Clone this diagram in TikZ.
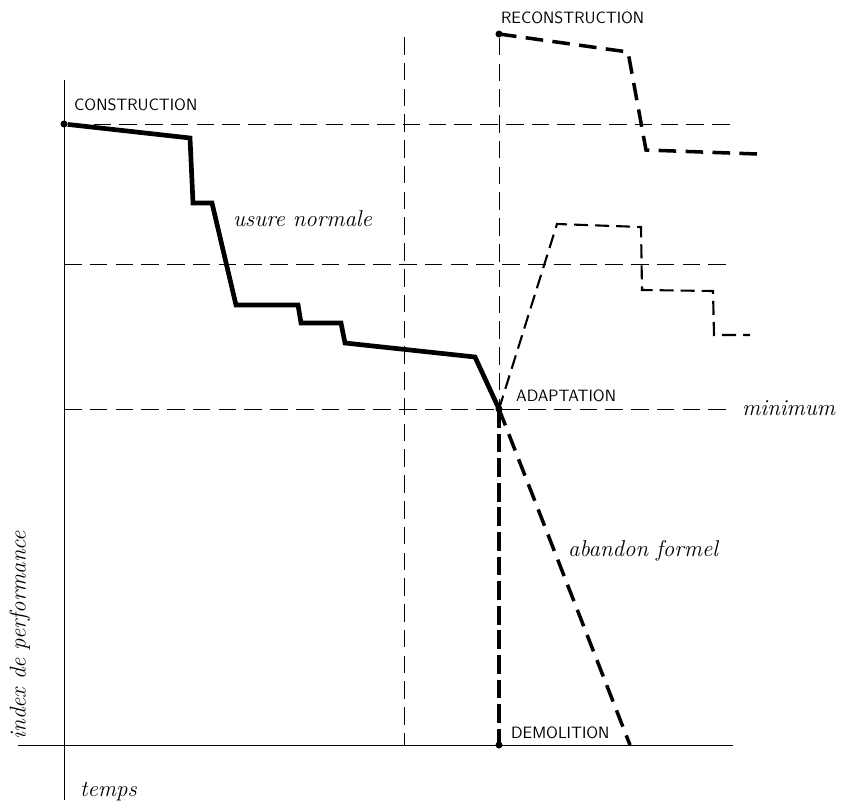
\documentclass[tikz,border=0pt]{standalone}
\usepackage{tikz}
\usetikzlibrary{positioning}

\tikzset{
  guide/.style={line width=0.6pt, dash pattern=on 15pt off 7pt},
  worn/.style={line width=4pt, line join=miter},
  rebuilt/.style={line width=3pt, dash pattern=on 15pt off 8pt},
  adapted/.style={line width=1.8pt, dash pattern=on 12pt off 6pt},
  caps/.style={font=\sffamily\fontsize{14}{16}\selectfont},
  hand/.style={font=\itshape\fontsize{19.5}{22}\selectfont},
  event/.style={circle, fill, inner sep=0pt, minimum size=6pt}
}

\begin{document}
\begin{tikzpicture}[x=0.03cm, y=-0.03cm]
      \useasboundingbox (0, 0) rectangle (841, 811);

      \coordinate (origin) at (64, 745);
      \node[event] (construction) at (64, 124) {};
      \node[event] (reconstruction) at (499, 34) {};
      \node[event] (adaptation) at (499, 409) {};
      \node[event] (demolition) at (499, 745) {};
      \coordinate (mid) at (404, 37);

      \draw[line width=0.8pt] (18, 745) -- (733, 745);
      \draw[line width=0.8pt] (64, 80) -- (64, 800);

      \draw[guide] (construction) -- (733, 124);
      \draw[guide] (64, 264) -- (733, 264);
      \draw[guide] (64, 409) -- (733, 409);
      \draw[guide] (mid) -- (mid |- origin);
      \draw[guide] (reconstruction) -- (adaptation);

      \draw[worn] (construction) -- (190, 138) -- (193, 203) -- (212, 203)
        -- (236, 305) -- (298, 305) -- (301, 323) -- (341, 323)
        -- (345, 343) -- (475, 357) -- (adaptation.center);

      \draw[rebuilt] (reconstruction.center) -- (628, 52) -- (646, 150) -- (757, 154);
      \draw[adapted] (adaptation.center) -- (557, 224) -- (641, 227) -- (642, 290)
        -- (713, 291) -- (714, 335) -- (750, 335);
      \draw[rebuilt] (adaptation.center) -- (630, 745);
      \draw[line width=2.6pt, dash pattern=on 16pt off 5pt] (adaptation.center) -- (demolition.center);

      \node[caps, anchor=west] (construction label) at (70, 105) {CONSTRUCTION};
      \node[caps, anchor=west] (reconstruction label) at (497, 18) {RECONSTRUCTION};
      \node[caps, anchor=west] (adaptation label) at (512, 396) {ADAPTATION};
      \node[caps, anchor=west] (demolition label) at (507, 733) {DEMOLITION};
      \node[hand, anchor=west] (minimum) at (738, 408) {minimum};
      \node[hand, anchor=west] (usure) at (229, 219) {usure normale};
      \node[hand, anchor=west] (abandon) at (564, 551) {abandon formel};
      \node[hand, anchor=west] (temps) at (76, 792) {temps};
      \node[hand, rotate=90] (index) at (20, 635) {index de performance};
    \end{tikzpicture}
\end{document}
